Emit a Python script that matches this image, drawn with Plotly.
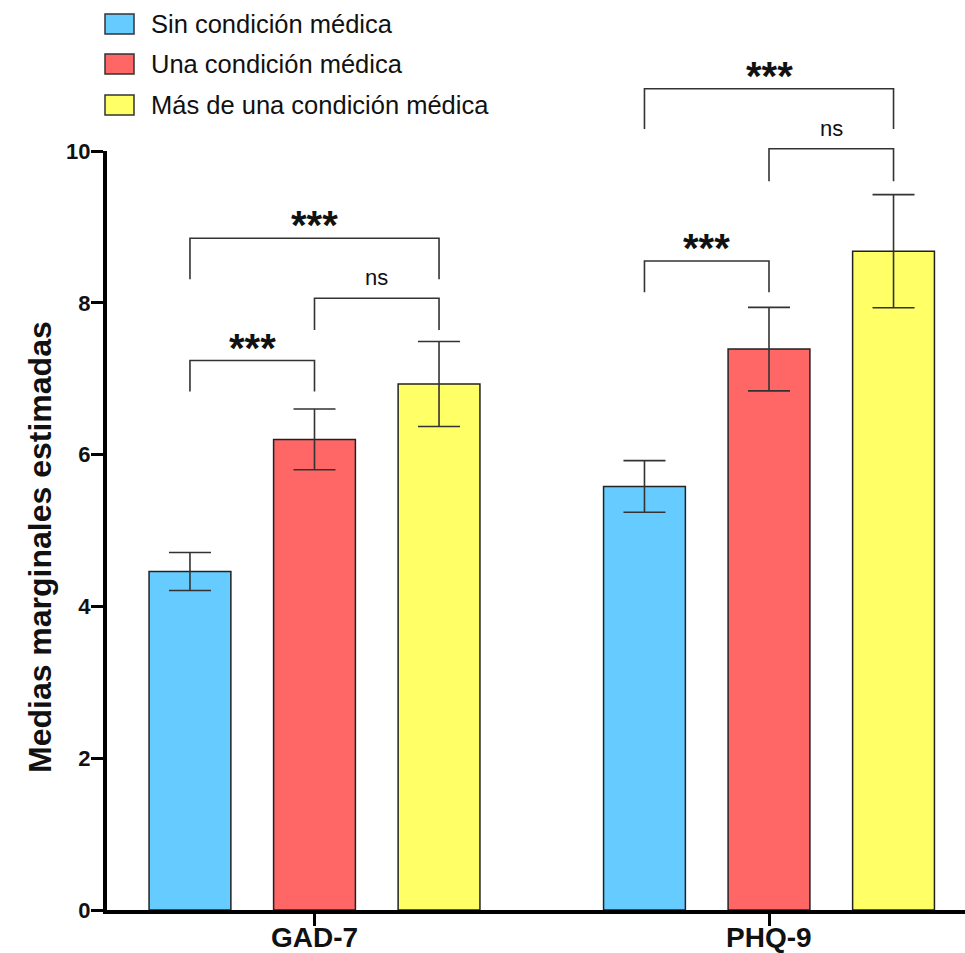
import plotly.graph_objects as go

# ---------------- data ----------------
CATEGORIES = ["GAD-7", "PHQ-9"]
SERIES = ["Sin condición médica", "Una condición médica", "Más de una condición médica"]
COLORS = ["#66CCFF", "#FF6666", "#FFFF66"]

sin_vals = [4.46, 5.58]
sin_err = [0.25, 0.34]
una_vals = [6.20, 7.39]
una_err = [0.40, 0.55]
mas_vals = [6.93, 8.68]
mas_err = [0.56, 0.745]

# pairwise comparisons (category index, series a, series b, label, bracket top, leg length)
comp_cat = [0, 0, 0, 1, 1, 1]
comp_a = [0, 1, 0, 0, 1, 0]
comp_b = [1, 2, 2, 1, 2, 2]
comp_label = ["***", "ns", "***", "***", "ns", "***"]
comp_top = [7.24, 8.06, 8.85, 8.55, 10.03, 10.82]
comp_leg = [0.41, 0.42, 0.54, 0.41, 0.43, 0.53]

Y_MAX = 10
Y_TICKS = [0, 2, 4, 6, 8, 10]

# ---------------- layout constants ----------------
W, H = 965, 953
ML, MR, MT, MB = 107, 0, 151, 43
PW, PH = W - ML - MR, H - MT - MB
PX_PER_X = 454.5
X_MIN = -(314.5 - ML) / PX_PER_X
X_MAX = X_MIN + PW / PX_PER_X
BARGAP, BARGROUPGAP = 0.178, 0.343
SLOT = (1 - BARGAP) / 3
FONT = "Liberation Sans, Arial, Helvetica, sans-serif"

vals = [sin_vals, una_vals, mas_vals]
errs = [sin_err, una_err, mas_err]
xs = list(range(len(CATEGORIES)))

fig = go.Figure()
for name, v, e, c in zip(SERIES, vals, errs, COLORS):
    fig.add_trace(go.Bar(
        x=xs, y=v, name=name,
        marker=dict(color=c, line=dict(color="#222222", width=1.5)),
        error_y=dict(type="data", array=e, visible=True, color="#333333",
                     thickness=1.6, width=21),
        showlegend=False,
    ))


def xp(x):
    return (x - X_MIN) / (X_MAX - X_MIN)


def yp(y):
    return y / Y_MAX


def px_x(p):
    return (p - ML) / PW


def px_y(p):
    return (H - MB - p) / PH


shapes = []
annotations = []

# significance brackets
for cat, a, b, lab, top, leg in zip(comp_cat, comp_a, comp_b, comp_label, comp_top, comp_leg):
    xa = cat + (a - 1) * SLOT
    xb = cat + (b - 1) * SLOT
    path = (f"M {xp(xa)},{yp(top - leg)} L {xp(xa)},{yp(top)} "
            f"L {xp(xb)},{yp(top)} L {xp(xb)},{yp(top - leg)}")
    shapes.append(dict(type="path", path=path, xref="paper", yref="paper",
                       line=dict(color="#333333", width=1.6)))
    if lab == "ns":
        font = dict(family=FONT, size=22, color="#111111")
        dy = 0.27
    else:
        font = dict(family=FONT, size=40, color="#111111", weight="bold")
        dy = 0.17
    annotations.append(dict(x=xp((xa + xb) / 2), y=yp(top + dy), xref="paper", yref="paper",
                            text=lab, showarrow=False, font=font,
                            xanchor="center", yanchor="middle"))

# category labels under the x axis
for i, cat in enumerate(CATEGORIES):
    annotations.append(dict(x=xp(i), y=px_y(937), xref="paper", yref="paper",
                            text=cat, showarrow=False, xanchor="center", yanchor="middle",
                            font=dict(family=FONT, size=28, color="#111111", weight="bold")))

# custom legend
leg_rows = [24, 64, 105]
for name, c, cy in zip(SERIES, COLORS, leg_rows):
    shapes.append(dict(type="rect", xref="paper", yref="paper",
                       x0=px_x(105), x1=px_x(134), y0=px_y(cy - 10), y1=px_y(cy + 10),
                       fillcolor=c, line=dict(color="#333333", width=1.5)))
    annotations.append(dict(x=px_x(149), y=px_y(cy), xref="paper", yref="paper",
                            text=name, showarrow=False, xanchor="left", yanchor="middle",
                            font=dict(family=FONT, size=25.5, color="#111111")))

# y-axis title
annotations.append(dict(x=px_x(40), y=px_y(547), xref="paper", yref="paper",
                        text="Medias marginales estimadas", textangle=-90, showarrow=False,
                        xanchor="center", yanchor="middle",
                        font=dict(family=FONT, size=32, color="#111111", weight="bold")))

fig.update_layout(
    width=W, height=H,
    margin=dict(l=ML, r=MR, t=MT, b=MB, pad=0, autoexpand=False),
    paper_bgcolor="white", plot_bgcolor="white",
    barmode="group", bargap=BARGAP, bargroupgap=BARGROUPGAP,
    shapes=shapes, annotations=annotations,
    showlegend=False,
    font=dict(family=FONT, color="#111111"),
)
fig.update_xaxes(
    range=[X_MIN, X_MAX], tickmode="array", tickvals=xs, ticktext=CATEGORIES,
    showticklabels=False,
    showline=True, linecolor="black", linewidth=4, automargin=False,
    ticks="outside", ticklen=12, tickwidth=3, tickcolor="black",
    showgrid=False, zeroline=False,
)
fig.update_yaxes(
    range=[0, Y_MAX], tickmode="array", tickvals=Y_TICKS,
    showline=True, linecolor="black", linewidth=4, automargin=False,
    ticks="outside", ticklen=12, tickwidth=3, tickcolor="black",
    ticklabelstandoff=-4,
    showgrid=False, zeroline=False,
    tickfont=dict(family=FONT, size=22, color="#111111", weight="bold"),
)

fig.write_html(
    "out.html",
    config={"displayModeBar": False},
    post_script="document.body.style.margin='0px';document.body.style.overflow='hidden';",
)
